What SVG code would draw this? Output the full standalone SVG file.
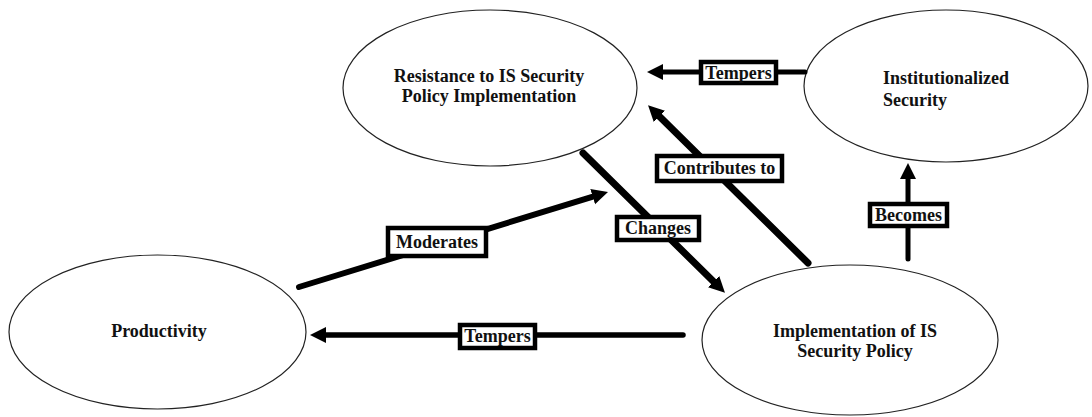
<svg xmlns="http://www.w3.org/2000/svg" width="1092" height="417" viewBox="0 0 1092 417">
  <style>
    .node ellipse { fill: #ffffff; stroke: #222222; stroke-width: 1.2; }
    .node text { font-family: "Liberation Serif", "Times New Roman", serif; font-weight: bold; font-size: 18px; fill: #111111; }
    .edge line { stroke: #000000; stroke-linecap: round; marker-end: url(#head); }
    .tag rect { fill: #ffffff; stroke: #000000; stroke-width: 4.5; }
    .tag text { font-family: "Liberation Serif", "Times New Roman", serif; font-weight: bold; font-size: 18px; fill: #111111; text-anchor: middle; }
  </style>
  <defs>
    <marker id="head" viewBox="0 -9 18 18" refX="2" refY="0" markerWidth="18" markerHeight="18" markerUnits="userSpaceOnUse" orient="auto">
      <path d="M0,-8 L16,0 L0,8 Z" fill="#000000"/>
    </marker>
  </defs>
  <rect width="1092" height="417" fill="#ffffff"/>

  <g id="node-resistance" class="node">
    <ellipse cx="490" cy="88" rx="147" ry="78"/>
    <text x="489" y="82" text-anchor="middle">Resistance to IS Security</text>
    <text x="489" y="102" text-anchor="middle">Policy Implementation</text>
  </g>

  <g id="node-institutionalized" class="node">
    <ellipse cx="946" cy="86" rx="142" ry="76"/>
    <text x="883" y="84">Institutionalized</text>
    <text x="883" y="106">Security</text>
  </g>

  <g id="node-productivity" class="node">
    <ellipse cx="157.5" cy="332" rx="148.5" ry="77"/>
    <text x="159" y="337" text-anchor="middle">Productivity</text>
  </g>

  <g id="node-implementation" class="node">
    <ellipse cx="850" cy="340" rx="148" ry="75"/>
    <text x="855" y="337" text-anchor="middle">Implementation of IS</text>
    <text x="855" y="357" text-anchor="middle">Security Policy</text>
  </g>

  <g id="connectors">
    <g class="edge">
      <line x1="805" y1="72" x2="661" y2="72" stroke-width="5"/>
      <line x1="808" y1="263" x2="658" y2="115" stroke-width="7"/>
      <line x1="583" y1="153" x2="715" y2="283" stroke-width="7"/>
      <line x1="299" y1="287" x2="594.6" y2="196.1" stroke-width="6"/>
      <line x1="908" y1="259" x2="908" y2="177" stroke-width="5"/>
      <line x1="683" y1="335" x2="324" y2="335" stroke-width="5.5"/>
    </g>
    <g class="tag">
      <rect x="701" y="62" width="75" height="21"/>
      <text x="738.5" y="79">Tempers</text>
      <rect x="657" y="156" width="125" height="25"/>
      <text x="719.5" y="174">Contributes to</text>
      <rect x="617" y="217" width="82" height="23"/>
      <text x="658" y="234">Changes</text>
      <rect x="388" y="228" width="98" height="28"/>
      <text x="437" y="248">Moderates</text>
      <rect x="870" y="204" width="77" height="22"/>
      <text x="908.5" y="221">Becomes</text>
      <rect x="460" y="325" width="75" height="23"/>
      <text x="497.5" y="342">Tempers</text>
    </g>
  </g>
</svg>
